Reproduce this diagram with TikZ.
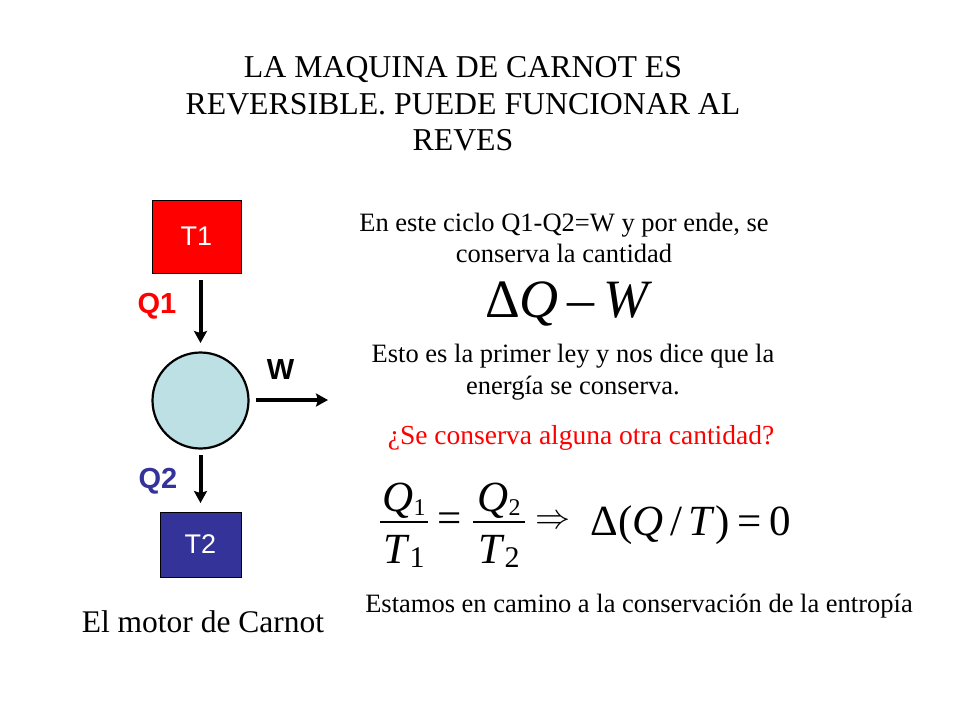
\documentclass[tikz,border=0pt]{standalone}
\usepackage{fontspec}
\setmainfont{Liberation Serif}
\newfontfamily\arialf{Liberation Sans}
\usetikzlibrary{arrows.meta}
\definecolor{tred}{RGB}{255,0,0}
\definecolor{tblue}{RGB}{51,51,153}
\definecolor{cfill}{RGB}{188,224,228}
\newcommand\sbs[2]{\raisebox{-4pt}{\fontsize{#1}{#1}\selectfont #2}}
\tikzset{
  x=1pt,y=-1pt,
  res/.style={draw=black,line width=0.8pt,inner sep=0pt,font=\arialf\fontsize{27}{30}\selectfont,text=white},
  flow/.style={line width=4pt,-{Stealth[length=12pt,width=13pt,inset=2pt]}},
  lbl/.style={font=\arialf\bfseries\fontsize{29}{32}\selectfont},
  body/.style={font=\fontsize{26.5}{31.5}\selectfont,align=center},
  eq/.style={font=\fontsize{43}{43}\selectfont,inner sep=0pt,anchor=base},
  bar/.style={line width=1.6pt},
}
\begin{document}
\begin{tikzpicture}
\useasboundingbox (0,0) rectangle (960,720);
% title
\node[font=\fontsize{31.8}{36.5}\selectfont,align=center] (title) at (463,104)
  {LA MAQUINA DE CARNOT ES\\REVERSIBLE. PUEDE FUNCIONAR AL\\REVES};
% engine diagram
\node[res,fill=tred,minimum width=89pt,minimum height=73pt] (t1) at (196.5,236.5) {T1};
\node[draw=black,line width=2.2pt,fill=cfill,circle,minimum size=96pt,inner sep=0pt] (eng) at (200.5,400.5) {};
\node[res,fill=tblue,minimum width=81pt,minimum height=65pt] (t2) at (200.5,544.5) {T2};
\coordinate (q1s) at (200.5,280);
\coordinate (q1e) at (200.5,343);
\draw[flow] (q1s) -- (q1e);
\coordinate (q2s) at (200.5,455);
\coordinate (q2e) at (200.5,503);
\draw[flow] (q2s) -- (q2e);
\coordinate (ws) at (256,400);
\coordinate (we) at (328,400);
\draw[flow] (ws) -- (we);
\node[lbl,text=tred] (lq1) at (157,306) {Q1};
\node[lbl,text=tblue] (lq2) at (158,481) {Q2};
\node[lbl] (lw) at (280.5,370) {W};
\node[font=\fontsize{31.5}{34}\selectfont] (cap) at (203,622) {El motor de Carnot};
% right side text
\node[body] (t_a) at (564,238) {En este ciclo Q1-Q2=W y por ende, se\\conserva la cantidad};
\node[font=\fontsize{54}{54}\selectfont,inner sep=0pt,anchor=base] (m1) at (569,317) {Δ\textit{Q}\,–\,\textit{W}};
\node[body] (t_b) at (573,372) {Esto es la primer ley y nos dice que la\\energía se conserva.};
\node[body,font=\fontsize{27.5}{31.5}\selectfont,text=tred] (t_c) at (581,438) {¿Se conserva alguna otra cantidad?};
% equation Q1/T1 = Q2/T2 => Delta(Q/T) = 0
\node[eq] (n1) at (404,511) {\textit{Q}\sbs{24}{1}};
\coordinate (b1l) at (380,522);
\coordinate (b1r) at (428,522);
\draw[bar] (b1l) -- (b1r);
\node[eq] (d1) at (404,563) {\textit{T}\sbs{30}{1}};
\node[eq,anchor=center] (eq1) at (450,522.5) {=};
\node[eq] (n2) at (499,511) {\textit{Q}\sbs{24}{2}};
\coordinate (b2l) at (473,522);
\coordinate (b2r) at (525,522);
\draw[bar] (b2l) -- (b2r);
\node[eq] (d2) at (499,563) {\textit{T}\sbs{30}{2}};
\node[inner sep=0pt] (impl) at (552.5,522) {\scalebox{3.5}{$\Rightarrow$}};
\node[eq,font=\fontsize{43}{43}\selectfont] (rhs) at (691,535) {Δ(\textit{Q}\kern7pt/\kern6pt\textit{T})\kern8pt=\kern8pt0};
\node[body] (t_d) at (639,606) {Estamos en camino a la conservación de la entropía};
\end{tikzpicture}
\end{document}
